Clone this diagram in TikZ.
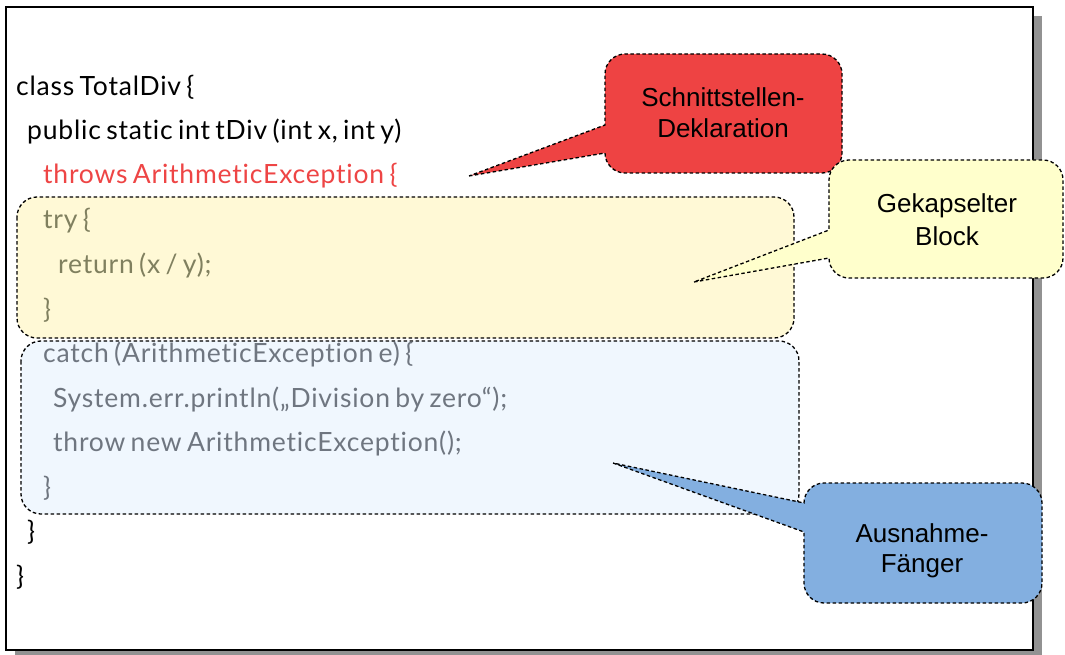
\documentclass[tikz,border=0pt]{standalone}
\usepackage{fontspec}
\setmainfont{Liberation Sans}
\newfontfamily\lato[Ligatures=NoCommon, LetterSpace=3, WordSpace=0.7]{Lato}
\definecolor{redfill}{HTML}{EE4343}
\definecolor{redtext}{HTML}{EE4545}
\definecolor{yellowblock}{HTML}{FFF9D6}
\definecolor{blueblock}{HTML}{F0F7FE}
\definecolor{yellowcall}{HTML}{FFFFCC}
\definecolor{bluecall}{HTML}{83AFE0}
\definecolor{trytext}{HTML}{80805F}
\definecolor{catchtext}{HTML}{6F7680}
\definecolor{shadowgray}{HTML}{929292}
\tikzset{
  codeline/.style={anchor=base west, inner sep=0pt, font=\lato\fontsize{26.5}{30}\selectfont},
  calltext/.style={anchor=base, inner sep=0pt, font=\fontsize{26}{31}\selectfont},
  dashline/.style={draw=black, line width=1.3pt, dash pattern=on 3.5pt off 2.5pt},
}
% #1 fill, #2 L, #3 T, #4 R, #5 B, #6 upper base y, #7 lower base y, #8 tip x, #9 tip y
\newcommand\mycallout[9]{%
  \draw[dashline, fill=#1] (#8,#9) -- (#2,#7) -- (#2,{#5-20})
    .. controls (#2,{#5-9}) and ({#2+9},#5) .. ({#2+20},#5) -- ({#4-20},#5)
    .. controls ({#4-9},#5) and (#4,{#5-9}) .. (#4,{#5-20}) -- (#4,{#3+20})
    .. controls (#4,{#3+9}) and ({#4-9},#3) .. ({#4-20},#3) -- ({#2+20},#3)
    .. controls ({#2+9},#3) and (#2,{#3+9}) .. (#2,{#3+20}) -- (#2,#6) -- cycle;}
\begin{document}
\begin{tikzpicture}[x=1pt,y=-1pt]
\useasboundingbox (0,0) rectangle (1065,655);
% frame with shadow
\fill[shadowgray] (15,16) rectangle (1042,660);
\draw[line width=1.5pt, fill=white] (6,7) rectangle (1033,650);
% blocks
\draw[dashline, fill=yellowblock, rounded corners=20pt] (17,197) rectangle (794,338);
\draw[dashline, fill=blueblock, rounded corners=20pt] (21,341) rectangle (799,514);
% code
\node[codeline] (c1) at (16,96) {class TotalDiv \{};
\node[codeline] (c2) at (27,140) {public static int tDiv (int x, int y)};
\node[codeline, text=redtext] (c3) at (43,184) {throws ArithmeticException \{};
\node[codeline, text=trytext] (c4) at (43,229) {try \{};
\node[codeline, text=trytext] (c5) at (58,273) {return (x / y);};
\node[codeline, text=trytext] (c6) at (43,318) {\}};
\node[codeline, text=catchtext] (c7) at (43,362) {catch (ArithmeticException e) \{};
\node[codeline, text=catchtext] (c8) at (53,407) {System.err.println(„Division by zero“);};
\node[codeline, text=catchtext] (c9) at (53,451) {throw new ArithmeticException();};
\node[codeline, text=catchtext] (c10) at (43,496) {\}};
\node[codeline] (c11) at (27,540) {\}};
\node[codeline] (c12) at (16,585) {\}};
% callouts
\mycallout{redfill}{605}{54}{842}{173}{125}{153}{469}{176}
\node[calltext] (r1) at (723,107) {Schnittstellen-};
\node[calltext] (r2) at (723,138) {Deklaration};
\mycallout{yellowcall}{829}{160}{1063}{278}{230}{258}{694}{282}
\node[calltext] (y1) at (947,213) {Gekapselter};
\node[calltext] (y2) at (947,245) {Block};
\mycallout{bluecall}{804}{483}{1042}{603}{503}{532}{613}{463}
\node[calltext] (b1) at (922,542) {Ausnahme-};
\node[calltext] (b2) at (922,572) {Fänger};
\end{tikzpicture}
\end{document}
